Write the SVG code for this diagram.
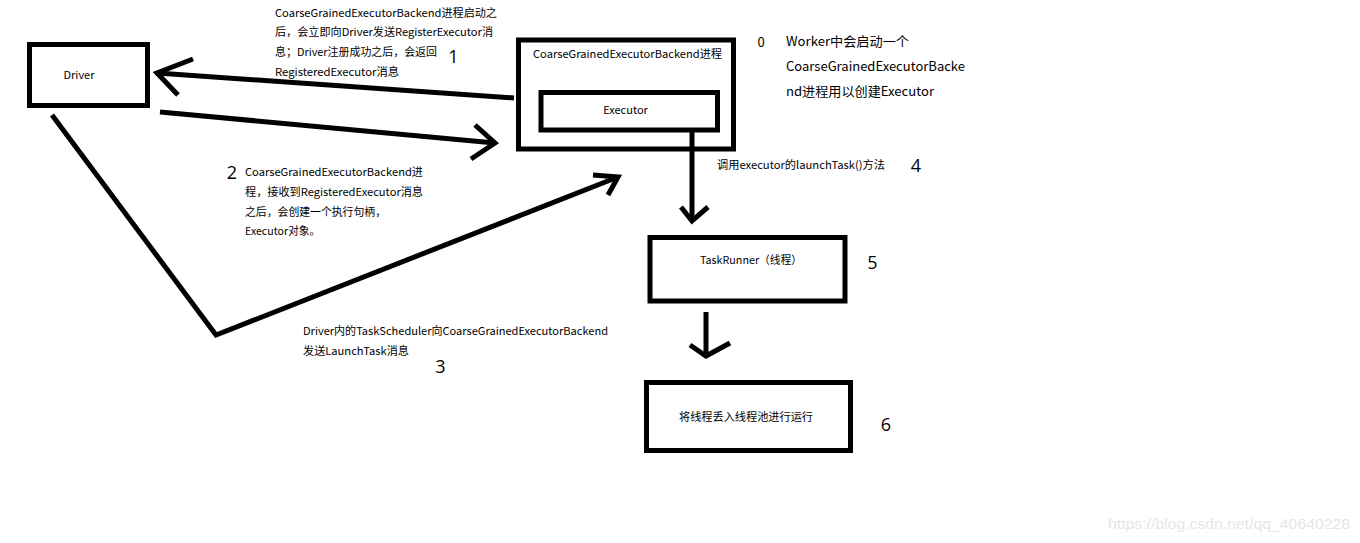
<svg xmlns="http://www.w3.org/2000/svg" width="1360" height="543" viewBox="0 0 1360 543">
<style>
.box{fill:none;stroke:#000;stroke-width:5}
.ln{fill:none;stroke:#000;stroke-width:5;stroke-linecap:butt;stroke-linejoin:miter}
.t{font-family:"Noto Sans CJK SC","Microsoft YaHei",sans-serif;font-size:11px;fill:#000}
.t13{font-family:"Noto Sans CJK SC","Microsoft YaHei",sans-serif;font-size:13px;fill:#000}
.num{font-family:"Open Sans","Noto Sans",sans-serif;font-size:18px;fill:#000;text-anchor:middle}
.wm{font-family:"Liberation Sans",Arial,sans-serif;font-size:15px;fill:#e6e6e6}
</style>
<rect width="1360" height="543" fill="#fff"/>
<g id="connectors">
<path class="ln" d="M514,98 L157,73"/>
<path class="ln" d="M193,59 L157,73 L178,95"/>
<path class="ln" d="M160,112 L495,143"/>
<path class="ln" d="M475,125 L495,143 L471,159"/>
<path class="ln" d="M52,115 L216,335 L618,177"/>
<path class="ln" d="M593,175 L618,177 L608,195"/>
<path class="ln" d="M692,130 L692,221"/>
<path class="ln" d="M681,207 L692,221 L708,207"/>
<path class="ln" d="M706,312 L706,356"/>
<path class="ln" d="M690,345 L706,356 L730,343"/>
</g>
<g id="driver">
<rect class="box" x="29.5" y="44.5" width="118" height="61"/>
<text class="t" x="79" y="79" text-anchor="middle">Driver</text>
</g>
<g id="backend">
<rect class="box" x="518.5" y="40" width="215" height="109"/>
<text class="t" x="533" y="58" textLength="189" lengthAdjust="spacingAndGlyphs">CoarseGrainedExecutorBackend进程</text>
</g>
<g id="executor">
<rect class="box" x="541" y="92.5" width="176.5" height="37.5"/>
<text class="t" x="625.5" y="114" text-anchor="middle">Executor</text>
</g>
<g id="taskrunner">
<rect class="box" x="650" y="237.5" width="195" height="63.5"/>
<text class="t" x="700" y="264" textLength="102" lengthAdjust="spacingAndGlyphs">TaskRunner（线程）</text>
</g>
<g id="threadpool">
<rect class="box" x="646.5" y="382.5" width="204" height="68"/>
<text class="t" x="679" y="421" textLength="134" lengthAdjust="spacingAndGlyphs">将线程丢入线程池进行运行</text>
</g>
<g id="label1">
<text class="t" x="275" y="17" textLength="222" lengthAdjust="spacingAndGlyphs">CoarseGrainedExecutorBackend进程启动之</text>
<text class="t" x="275" y="36" textLength="218" lengthAdjust="spacingAndGlyphs">后，会立即向Driver发送RegisterExecutor消</text>
<text class="t" x="275" y="56" textLength="162" lengthAdjust="spacingAndGlyphs">息；Driver注册成功之后，会返回</text>
<text class="t" x="275" y="76" textLength="124" lengthAdjust="spacingAndGlyphs">RegisteredExecutor消息</text>
<text class="num" x="453.5" y="63">1</text>
</g>
<g id="label0">
<text class="t13" x="761" y="47" text-anchor="middle">0</text>
<text class="t13" x="786" y="45.5" textLength="123" lengthAdjust="spacingAndGlyphs">Worker中会启动一个</text>
<text class="t13" x="786" y="70.5" textLength="179" lengthAdjust="spacingAndGlyphs">CoarseGrainedExecutorBacke</text>
<text class="t13" x="786" y="95.5" textLength="148" lengthAdjust="spacingAndGlyphs">nd进程用以创建Executor</text>
</g>
<g id="label2">
<text class="num" x="232" y="179">2</text>
<text class="t" x="245" y="176" textLength="178" lengthAdjust="spacingAndGlyphs">CoarseGrainedExecutorBackend进</text>
<text class="t" x="245" y="196" textLength="178" lengthAdjust="spacingAndGlyphs">程，接收到RegisteredExecutor消息</text>
<text class="t" x="245" y="216" textLength="141" lengthAdjust="spacingAndGlyphs">之后，会创建一个执行句柄，</text>
<text class="t" x="245" y="235" textLength="75" lengthAdjust="spacingAndGlyphs">Executor对象。</text>
</g>
<g id="label3">
<text class="t" x="303" y="335" textLength="305" lengthAdjust="spacingAndGlyphs">Driver内的TaskScheduler向CoarseGrainedExecutorBackend</text>
<text class="t" x="303" y="355" textLength="106" lengthAdjust="spacingAndGlyphs">发送LaunchTask消息</text>
<text class="num" x="440.5" y="373">3</text>
</g>
<g id="label4">
<text class="t" x="717" y="169" textLength="168" lengthAdjust="spacingAndGlyphs">调用executor的launchTask()方法</text>
<text class="num" x="916" y="172">4</text>
</g>
<g id="label5"><text class="num" x="872.5" y="269">5</text></g>
<g id="label6"><text class="num" x="886" y="431">6</text></g>
<text class="wm" x="1108" y="529" textLength="242" lengthAdjust="spacingAndGlyphs">https://blog.csdn.net/qq_40640228</text>
</svg>
